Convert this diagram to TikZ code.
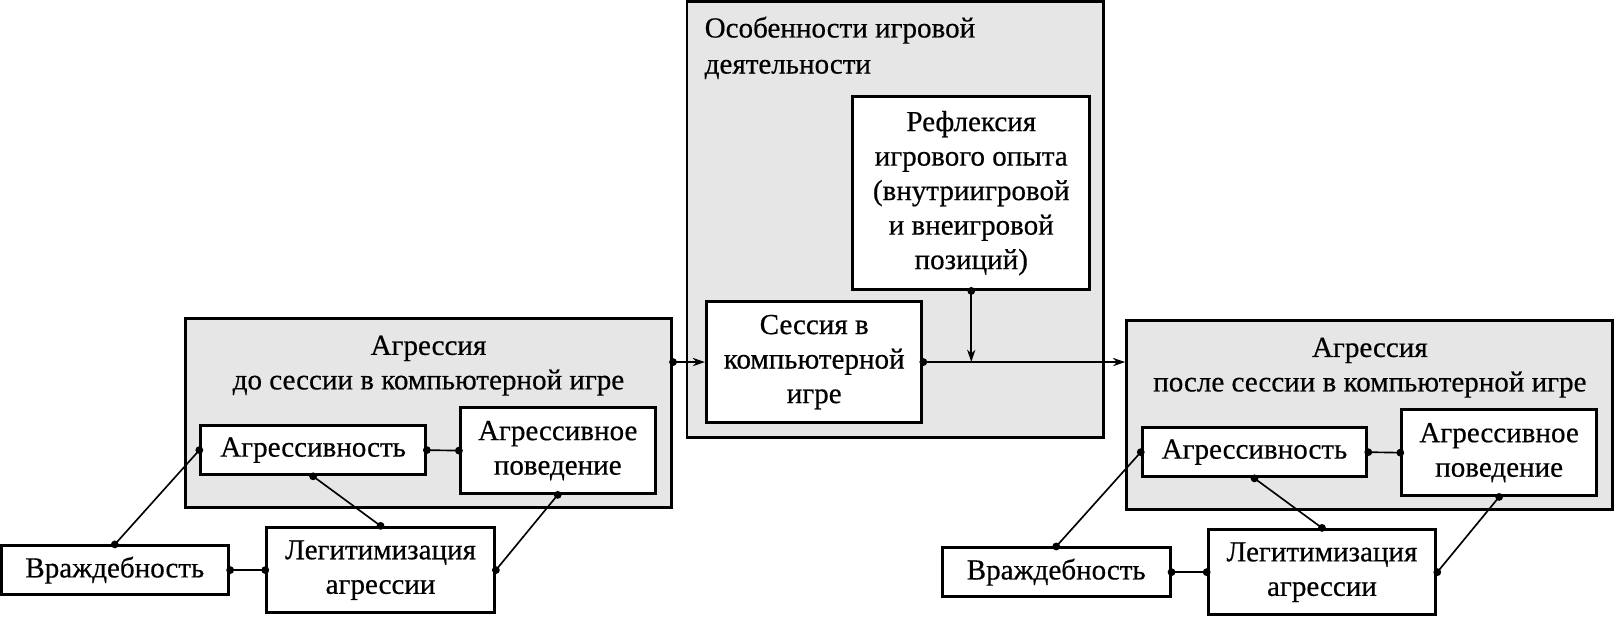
\documentclass[tikz,border=0pt]{standalone}
\usepackage{fontspec}
\setmainfont{Liberation Serif}[FakeBold=0.5]
\usetikzlibrary{arrows.meta}
\definecolor{panelgray}{RGB}{230,230,230}
\begin{document}
\begin{tikzpicture}[x=1pt,y=-1pt,
  every node/.style={font=\fontsize{28.2}{33.5}\selectfont, inner sep=0pt, align=center},
  panel/.style={draw, line width=2.9pt, fill=panelgray},
  box/.style={draw, line width=2.9pt, fill=white},
  conn/.style={line width=1.6pt},
  arr/.style={conn, -{Stealth[length=12pt,width=8pt]}},
  ]
\useasboundingbox (0,0) rectangle (1568,606);
% panels
\node[panel, minimum width=472, minimum height=184] (Lgray) at (416,401) {};
\node[panel, minimum width=404, minimum height=423] (Mgray) at (869,213) {};
\node[panel, minimum width=472, minimum height=183] (Rgray) at (1330,403) {};
% panel titles
\node (Ltitle) at (416,355) {Агрессия\\до сессии в компьютерной игре};
\node (Rtitle) at (1330,357) {Агрессия\\после сессии в компьютерной игре};
\node[anchor=north west, align=left, font=\fontsize{28.2}{35}\selectfont] (Mtitle) at (684,16) {Особенности игровой\\деятельности};
% left group
\node[box, minimum width=218, minimum height=48] (LAgr) at (304,437) {Агрессивность};
\node[box, minimum width=189, minimum height=83] (LPov) at (541.5,437.5) {Агрессивное\\поведение};
\node[box, minimum width=221, minimum height=47] (LVr) at (111.5,553.5) {Враждебность};
\node[box, minimum width=221, minimum height=83] (LLeg) at (369.5,553.5) {Легитимизация\\агрессии};
% middle group
\node[box, minimum width=230, minimum height=187] (Refl) at (943,187.5) {Рефлексия\\игрового опыта\\(внутриигровой\\и внеигровой\\позиций)};
\node[box, minimum width=209, minimum height=117] (Sess) at (790.5,351.5) {Сессия в\\компьютерной\\игре};
% right group
\node[box, minimum width=218, minimum height=48] (RAgr) at (1218,439) {Агрессивность};
\node[box, minimum width=189, minimum height=83] (RPov) at (1455.5,439.5) {Агрессивное\\поведение};
\node[box, minimum width=221, minimum height=47] (RVr) at (1025.5,555.5) {Враждебность};
\node[box, minimum width=221, minimum height=83] (RLeg) at (1283.5,555.5) {Легитимизация\\агрессии};
% connectors left
\draw[conn] (LAgr.west) -- (LVr.north);
\draw[conn] (LAgr.east) -- (LPov.west);
\draw[conn] (LAgr.south) -- (LLeg.north);
\draw[conn] (LPov.south) -- (LLeg.east);
\draw[conn] (LVr.east) -- (LLeg.west);
% connectors right
\draw[conn] (RAgr.west) -- (RVr.north);
\draw[conn] (RAgr.east) -- (RPov.west);
\draw[conn] (RAgr.south) -- (RLeg.north);
\draw[conn] (RPov.south) -- (RLeg.east);
\draw[conn] (RVr.east) -- (RLeg.west);
% flow
\coordinate (Lout) at (Sess.west -| Lgray.east);
\coordinate (Rin) at (Sess.east -| Rgray.west);
\coordinate (J) at (Refl.south |- Sess.east);
\draw[arr] (Lout) -- (Sess.west);
\draw[arr] (Sess.east) -- (Rin);
\draw[arr] (Refl.south) -- (J);
% dots
\foreach \p in {LAgr.west, LVr.north, LAgr.east, LPov.west, LAgr.south, LLeg.north, LPov.south, LLeg.east, LVr.east, LLeg.west,
                RAgr.west, RVr.north, RAgr.east, RPov.west, RAgr.south, RLeg.north, RPov.south, RLeg.east, RVr.east, RLeg.west,
                Lout, Sess.east, Refl.south}
  \fill (\p) circle[radius=3.8pt];
\end{tikzpicture}
\end{document}
